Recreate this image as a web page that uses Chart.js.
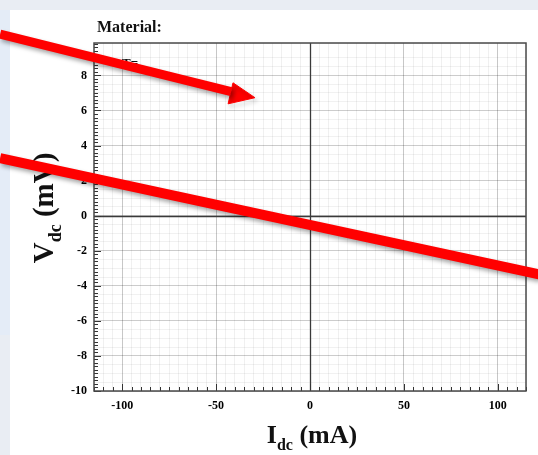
<!DOCTYPE html>
<html>
<head>
<meta charset="utf-8">
<script src="https://cdn.jsdelivr.net/npm/chart.js@4"></script>
<style>
	html, body { margin: 0; padding: 0; }
	body { width: 538px; height: 455px; background: #e9edf3; position: relative; overflow: hidden; }
	#side { position: absolute; left: 0; top: 10px; width: 10px; height: 325px; background: #e4ecf7; }
	#panel { position: absolute; left: 10px; top: 10px; right: 0; bottom: 0; background: #ffffff; }
	#wrap { position: absolute; left: 0; top: 0; width: 538px; height: 455px; }
</style>
</head>
<body>
<div id="side"></div>
<div id="panel"></div>
<div id="wrap"><canvas id="myChart"></canvas></div>
<script>
// axis ranges and labels (I in mA, V in mV)
var xMin = -115, xMax = 115;
var yMin = -10, yMax = 9.85;
var xLabelValues = [-100, -50, 0, 50, 100];
var yLabelValues = [-10, -8, -6, -4, -2, 0, 2, 4, 6, 8];

// red overlay strokes, in data units
var lineX = [-165, 122];
var lineY = [3.28, -3.35];
var arrowX = [-165, -42];
var arrowY = [10.35, 7.07];
var headX = [-41.0, -29.3, -43.6, -41.0];
var headY = [7.58, 6.73, 6.38, 7.58];

function pts(xs, ys) {
	return xs.map(function (x, i) { return { x: x, y: ys[i] }; });
}

var serif = "'Liberation Serif', 'Times New Roman', serif";

var overlay = {
	id: "overlay",
	beforeDatasetsDraw: function (chart) {
		var ctx = chart.ctx;
		var a = chart.chartArea;
		var xs = chart.scales.x, ys = chart.scales.y;
		ctx.save();
		// zero lines on top of the grid
		ctx.strokeStyle = "#3a3a3a";
		ctx.lineWidth = 1.3;
		ctx.beginPath();
		var x0 = Math.round(xs.getPixelForValue(0)) + 0.5;
		var y0 = Math.round(ys.getPixelForValue(0)) + 0.5;
		ctx.moveTo(x0, a.top);
		ctx.lineTo(x0, a.bottom);
		ctx.moveTo(a.left, y0);
		ctx.lineTo(a.right, y0);
		ctx.stroke();
		// inner minor ticks
		ctx.strokeStyle = "#333";
		ctx.lineWidth = 1;
		ctx.beginPath();
		for (var v = yMin; v <= yMax + 1e-6; v += 0.2) {
			var py = Math.round(ys.getPixelForValue(v)) + 0.5;
			var big = Math.abs(v - Math.round(v / 2) * 2) < 1e-6;
			ctx.moveTo(a.left, py);
			ctx.lineTo(a.left + (big ? 7 : 4), py);
		}
		for (var u = xMin; u <= xMax + 1e-6; u += 5) {
			var px = Math.round(xs.getPixelForValue(u)) + 0.5;
			var bigx = Math.abs(u % 50) < 1e-6;
			ctx.moveTo(px, a.bottom);
			ctx.lineTo(px, a.bottom - (bigx ? 7 : 4));
		}
		ctx.stroke();
		// frame
		ctx.strokeStyle = "#4a4a4a";
		ctx.lineWidth = 1.5;
		ctx.strokeRect(a.left, a.top, a.right - a.left, a.bottom - a.top);

		// texts
		ctx.fillStyle = "#111";
		ctx.textBaseline = "alphabetic";
		ctx.textAlign = "left";
		ctx.font = "bold 16px " + serif;
		ctx.fillText("Material:", 97, 32);
		ctx.font = "bold 13px " + serif;
		ctx.fillText("T=", 122, 67);

		// x title with subscript
		drawSubTitle(ctx, (a.left + a.right) / 2 + 2, 443, 26, "I", "dc", " (mA)");
		// y title, rotated
		ctx.save();
		ctx.translate(53, 208);
		ctx.rotate(-Math.PI / 2);
		drawSubTitle(ctx, 0, 0, 29, "V", "dc", " (mV)");
		ctx.restore();
		ctx.restore();
	},
	beforeDatasetDraw: function (chart) {
		var ctx = chart.ctx;
		ctx.save();
		ctx.shadowColor = "rgba(0,0,0,0.35)";
		ctx.shadowBlur = 4;
		ctx.shadowOffsetX = 2;
		ctx.shadowOffsetY = 3;
	},
	afterDatasetDraw: function (chart) {
		chart.ctx.restore();
	},
};

function drawSubTitle(ctx, cx, base, size, main, sub, rest) {
	var big = "bold " + size + "px " + serif;
	var small = "bold " + Math.round(size * 0.62) + "px " + serif;
	ctx.font = big;
	var w1 = ctx.measureText(main).width;
	var w3 = ctx.measureText(rest).width;
	ctx.font = small;
	var w2 = ctx.measureText(sub).width;
	var x = cx - (w1 + w2 + w3) / 2;
	ctx.fillStyle = "#111";
	ctx.textAlign = "left";
	ctx.font = big;
	ctx.fillText(main, x, base);
	ctx.font = small;
	ctx.fillText(sub, x + w1, base + size * 0.28);
	ctx.font = big;
	ctx.fillText(rest, x + w1 + w2, base);
}

var ctx = document.getElementById("myChart").getContext("2d");
var myChart = new Chart(ctx, {
	type: "scatter",
	data: {
		datasets: [
			{
				data: pts(lineX, lineY),
				showLine: true,
				borderColor: "#ff0000",
				borderWidth: 10,
				pointRadius: 0,
				borderCapStyle: "butt",
				clip: false,
			},
			{
				data: pts(arrowX, arrowY),
				showLine: true,
				borderColor: "#ff0000",
				borderWidth: 9,
				pointRadius: 0,
				clip: false,
			},
			{
				data: pts(headX, headY),
				showLine: true,
				borderColor: "#ff0000",
				backgroundColor: "#ff0000",
				borderWidth: 1,
				fill: "shape",
				pointRadius: 0,
				clip: false,
			},
		],
	},
	options: {
		responsive: true,
		maintainAspectRatio: false,
		animation: false,
		layout: { padding: { left: 0, top: 43, right: 12, bottom: 0 } },
		plugins: {
			legend: { display: false },
			tooltip: { enabled: false },
		},
		scales: {
			x: {
				type: "linear",
				min: xMin,
				max: xMax,
				afterFit: function (s) { s.height = 64; },
				border: { display: false },
				grid: {
					drawTicks: false,
					color: function (c) {
						var v = c.tick.value;
						if (Math.abs(v % 50) < 1e-6) return "rgba(0,0,0,0.22)";
						return "rgba(0,0,0,0.06)";
					},
				},
				ticks: {
					stepSize: 5,
					autoSkip: false,
					maxRotation: 0,
					padding: 8,
					color: "#000",
					font: { family: serif, weight: "bold", size: 12 },
					callback: function (v) { return xLabelValues.indexOf(v) >= 0 ? String(v) : ""; },
				},
			},
			y: {
				type: "linear",
				min: yMin,
				max: yMax,
				afterFit: function (s) { s.width = 94; },
				border: { display: false },
				grid: {
					drawTicks: false,
					color: function (c) {
						var v = c.tick.value;
						if (yLabelValues.indexOf(v) >= 0) return "rgba(0,0,0,0.2)";
						return "rgba(0,0,0,0.055)";
					},
				},
				ticks: {
					stepSize: 0.5,
					autoSkip: false,
					padding: 7,
					color: "#000",
					font: { family: serif, weight: "bold", size: 12 },
					callback: function (v) { return yLabelValues.indexOf(v) >= 0 ? String(v) : ""; },
				},
			},
		},
	},
	plugins: [overlay],
});
</script>
</body>
</html>
